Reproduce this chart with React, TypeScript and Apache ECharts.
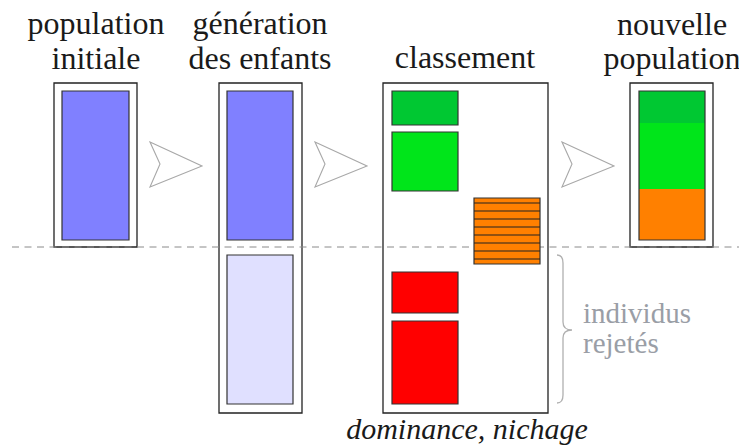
import React, { useEffect, useRef } from "react";
import * as echarts from "echarts";

const W = 739;
const H = 446;

// Outer frames of each population: [x0, y0, x1, y1]
const frames = [
  [54, 83, 137, 247],
  [219, 83, 302, 413],
  [383, 83, 548, 413],
  [630, 83, 713, 247],
];

// Palette keys used by blocks
const blockColors = ["#8080ff", "#e0e0ff", "#00c832", "#00e51a", "#ff8000", "#ff0000"];

// Coloured blocks: [x0, y0, x1, y1, colourIndex (-1 = none), outlined]
const blocks = [
  [62, 91, 129, 240, 0, 1],
  [227, 91, 293, 240, 0, 1],
  [227, 255, 293, 404, 1, 1],
  [392, 91, 458, 125, 2, 1],
  [392, 132, 458, 191, 3, 1],
  [474, 198, 540, 264, 4, 1],
  [392, 272, 458, 313, 5, 1],
  [392, 321, 458, 404, 5, 1],
  [639, 91, 705, 123, 2, 0],
  [639, 123, 705, 189, 3, 0],
  [639, 189, 705, 240, 4, 0],
  [639, 91, 705, 240, -1, 1],
];

// Hatch lines in the partially selected front F3: [y]
const hatchY = [203, 211, 219, 227, 235, 243, 251, 259];
const hatchX = [474, 540];

// Arrows: left x of each chevron
const arrowX = [150, 315, 562];

// Separation line
const dashLine = [[12, 247, 739, 247]];

// Titles: [text, centerX, baselineY]
const titles: [string, number, number][] = [
  ["population", 96, 33],
  ["initiale", 96, 68],
  ["génération", 260, 33],
  ["des enfants", 260, 68],
  ["classement", 465, 67],
  ["nouvelle", 672, 34],
  ["population", 672, 68],
];

// Math labels: [main, subItalic, subRoman, splitX, baselineY]
const mathLabels: [string, string, string, number, number][] = [
  ["P", "g", "", 100, 172],
  ["Q", "g", "", 263, 336],
  ["F", "", "1", 430, 115],
  ["F", "", "2", 430, 169],
  ["F", "", "3", 430, 240],
  ["F", "", "4", 428, 302],
  ["F", "", "5", 428, 367],
  ["R", "g", "", 523, 113],
  ["P", "g", "+1", 662, 173],
];

const rejectLabel = ["individus", "rejetés"];
const rejectPos = [583, 322, 352];
const bottomLabel = "dominance, nichage";
const bottomPos = [467, 438];

// Brace: [x0, yTop, yTip, yBottom, xTip]
const brace = [[557, 255, 330, 403, 572]];

const FAMILY = "Liberation Serif";

function rectFrom(api: any, x0: number, y0: number, x1: number, y1: number) {
  const p0 = api.coord([x0, y0]);
  const p1 = api.coord([x1, y1]);
  return { x: p0[0], y: p0[1], width: p1[0] - p0[0], height: p1[1] - p0[1] };
}

function buildBase(): any {
  const line = (api: any) => {
    const a = api.coord([api.value(0), api.value(1)]);
    const b = api.coord([api.value(2), api.value(3)]);
    return { x1: a[0], y1: a[1], x2: b[0], y2: b[1] };
  };
  return {
    animation: false,
    textStyle: { fontFamily: FAMILY },
    grid: { left: 0, right: 0, top: 0, bottom: 0 },
    xAxis: { type: "value", min: 0, max: W, show: false },
    yAxis: { type: "value", min: 0, max: H, inverse: true, show: false },
    series: [
      {
        type: "custom",
        name: "frames",
        silent: true,
        data: frames,
        renderItem: (p: any, api: any) => ({
          type: "rect",
          shape: rectFrom(api, api.value(0), api.value(1), api.value(2), api.value(3)),
          style: { fill: "#ffffff", stroke: "#222222", lineWidth: 1.3 },
        }),
      },
      {
        type: "custom",
        name: "separator",
        silent: true,
        data: dashLine,
        renderItem: (p: any, api: any) => ({
          type: "line",
          shape: line(api),
          style: { stroke: "#8a8a8a", lineWidth: 1, lineDash: [7, 5.5] },
        }),
      },
      {
        type: "custom",
        name: "blocks",
        silent: true,
        data: blocks,
        renderItem: (p: any, api: any) => {
          const ci = api.value(4);
          const outlined = api.value(5) === 1;
          return {
            type: "rect",
            shape: rectFrom(api, api.value(0), api.value(1), api.value(2), api.value(3)),
            style: {
              fill: ci < 0 ? "none" : blockColors[ci],
              stroke: outlined ? "#333333" : "none",
              lineWidth: 1.2,
            },
          };
        },
      },
      {
        type: "custom",
        name: "hatch",
        silent: true,
        data: hatchY.map((y) => [hatchX[0], y, hatchX[1], y]),
        renderItem: (p: any, api: any) => ({
          type: "line",
          shape: line(api),
          style: { stroke: "#222222", lineWidth: 1.1 },
        }),
      },
      {
        type: "custom",
        name: "arrows",
        silent: true,
        data: arrowX.map((x) => [x, 165]),
        renderItem: (p: any, api: any) => {
          const x = api.value(0);
          const y = api.value(1);
          const pts = [
            [x, y - 23],
            [x + 52, y + 1],
            [x, y + 22],
            [x + 10, y - 1],
          ].map((q) => api.coord(q));
          return {
            type: "polygon",
            shape: { points: pts },
            style: { fill: "#ffffff", stroke: "#a8a8a8", lineWidth: 1.1 },
          };
        },
      },
      {
        type: "custom",
        name: "brace",
        silent: true,
        data: brace,
        renderItem: (p: any, api: any) => {
          const x0 = api.value(0);
          const yT = api.value(1);
          const yM = api.value(2);
          const yB = api.value(3);
          const xt = api.value(4);
          const xm = x0 + 6;
          const c = (x: number, y: number) => api.coord([x, y]).join(",");
          const d =
            `M${c(x0, yT)} Q${c(xm, yT)} ${c(xm, yT + 8)} L${c(xm, yM - 8)} Q${c(xm, yM)} ${c(xt, yM)} ` +
            `Q${c(xm, yM)} ${c(xm, yM + 8)} L${c(xm, yB - 8)} Q${c(xm, yB)} ${c(x0, yB)}`;
          return {
            type: "path",
            shape: { pathData: d },
            style: { fill: "none", stroke: "#b0b0b0", lineWidth: 1.3 },
          };
        },
      },
    ],
  };
}

export default function App() {
  const ref = useRef<HTMLDivElement>(null);
  useEffect(() => {
    if (!ref.current) return;
    const chart = echarts.init(ref.current, null, { renderer: "svg" });
    const central = (base: number, size: number) => base - 0.31 * size;

    // first pass: lay out the grid so that coordinates can be converted
    chart.setOption(buildBase());
    const px = (x: number, y: number) => chart.convertToPixel({ gridIndex: 0 }, [x, y]) as number[];

    const cv = document.createElement("canvas").getContext("2d") as CanvasRenderingContext2D;
    const fontOf = (size: number, prefix: string) => `${prefix}${size}px ${FAMILY}`;
    const measure = (text: string, size: number, prefix: string) => {
      cv.font = fontOf(size, prefix);
      return cv.measureText(text).width;
    };

    const texts: any[] = [];
    const put = (text: string, x: number, baseline: number, size: number, color: string, align: string, prefix = "") => {
      const w = measure(text, size, prefix);
      const p = px(x, central(baseline, size));
      const left = align === "center" ? p[0] - w / 2 : align === "right" ? p[0] - w : p[0];
      const top = p[1] - size / 2;
      const style: any = prefix
        ? { text, font: fontOf(size, prefix), fill: color }
        : { text, fontFamily: FAMILY, fontSize: size, fill: color };
      texts.push({ type: "text", left, top, style });
    };

    titles.forEach((t) => put(t[0], t[1], t[2], 32, "#1a1a1a", "center"));
    mathLabels.forEach((m) => {
      const x = m[3];
      const b = m[4];
      put(m[0], x, b, 30, "#000000", "right", "italic bold ");
      let cx = x + 1;
      if (m[1]) {
        put(m[1], cx, b + 5, 21, "#111111", "left", "italic ");
        cx += 11;
      }
      if (m[2]) put(m[2], cx, b + 5, 21, "#111111", "left");
    });
    put(rejectLabel[0], rejectPos[0], rejectPos[1], 29, "#9a9ea6", "left");
    put(rejectLabel[1], rejectPos[0], rejectPos[2], 29, "#9a9ea6", "left");
    put(bottomLabel, bottomPos[0], bottomPos[1], 30, "#1a1a1a", "center", "italic ");

    // second pass: one complete option, texts on top of the series
    const full = buildBase();
    full.graphic = { elements: [{ type: "group", z: 100, children: texts }] };
    chart.setOption(full, true);

    return () => chart.dispose();
  }, []);
  return (
    <div style={{ fontFamily: FAMILY }}>
      <div
        ref={ref}
        style={{ position: "fixed", left: 0, top: 0, width: W, height: H, background: "#fff", fontFamily: FAMILY }}
      />
    </div>
  );
}
